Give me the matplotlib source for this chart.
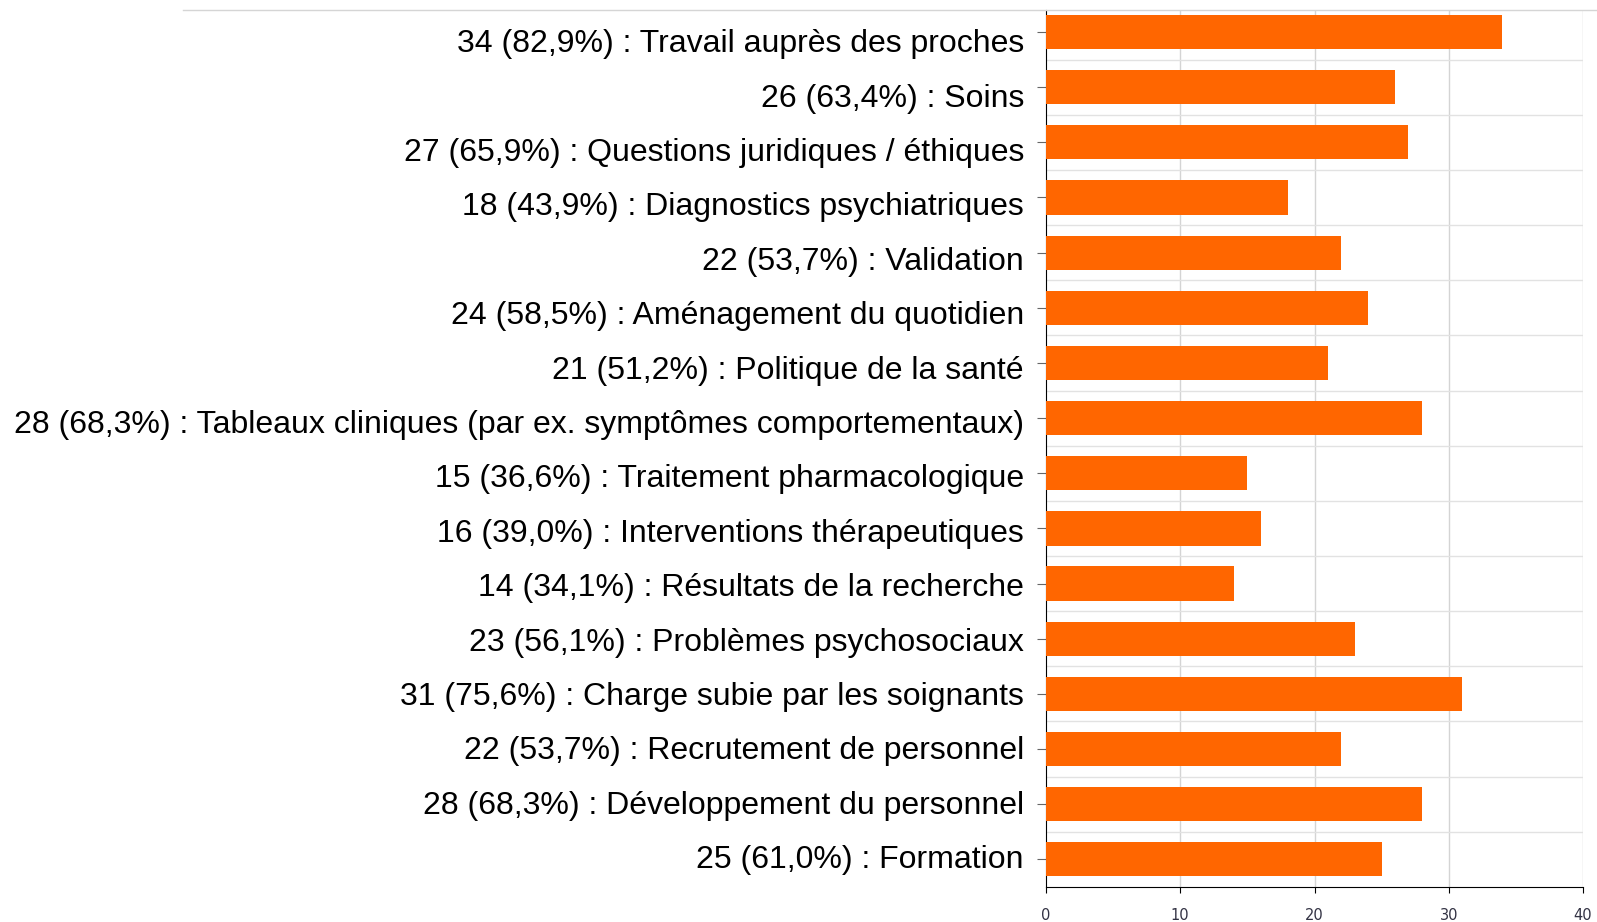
import matplotlib
matplotlib.use("Agg")
import matplotlib.pyplot as plt
from matplotlib.lines import Line2D

# answers, top to bottom
categories = [
    "Travail auprès des proches",
    "Soins",
    "Questions juridiques / éthiques",
    "Diagnostics psychiatriques",
    "Validation",
    "Aménagement du quotidien",
    "Politique de la santé",
    "Tableaux cliniques (par ex. symptômes comportementaux)",
    "Traitement pharmacologique",
    "Interventions thérapeutiques",
    "Résultats de la recherche",
    "Problèmes psychosociaux",
    "Charge subie par les soignants",
    "Recrutement de personnel",
    "Développement du personnel",
    "Formation",
]
counts = [34, 26, 27, 18, 22, 24, 21, 28, 15, 16, 14, 23, 31, 22, 28, 25]
percents = ["82,9", "63,4", "65,9", "43,9", "53,7", "58,5", "51,2", "68,3",
            "36,6", "39,0", "34,1", "56,1", "75,6", "53,7", "68,3", "61,0"]
xticks = [0, 10, 20, 30, 40]

labels = [f"{c} ({p}%) : {name}" for c, p, name in zip(counts, percents, categories)]

plt.rcParams['font.family'] = ['Liberation Sans', 'DejaVu Sans']

W, H = 1597, 922
fig = plt.figure(figsize=(W / 100, H / 100), dpi=100)
ax = fig.add_axes([1046 / W, 0.038, 537 / W, 0.9512])

n = len(categories)
ypos = list(range(n))
ax.barh(ypos, counts, height=0.62, color="#FF6600", zorder=3)

ax.set_ylim(n - 0.5, -0.4)
ax.set_xlim(0, 40)
ax.set_yticks(ypos)
ax.set_yticklabels([])
ax.tick_params(axis="y", length=6.5, color="#666666")

# the labels in the original sit on a slightly tighter pitch than the bars
label_top, label_step = 40.7, 54.4   # pixels from the top
for i, lab in enumerate(labels):
    fig.text(1024 / W, 1 - (label_top + i * label_step) / H, lab,
             fontsize=23, ha="right", va="center_baseline", color="black")

ax.set_xticks(xticks)
ax.set_xticklabels([str(t) for t in xticks], fontsize=10.5, color="#333344",
                   family="DejaVu Sans")
ax.tick_params(axis="x", length=4.5, color="black", pad=11)

# grid: vertical at ticks, horizontal between rows
for t in xticks[1:]:
    ax.axvline(t, color="#d4d4d4", lw=1, zorder=1)
for k in range(1, n):
    ax.axhline(k - 0.5, color="#e2e2e2", lw=1, zorder=1)

for s in ["top", "right"]:
    ax.spines[s].set_visible(False)
ax.spines["left"].set_color("black")
ax.spines["bottom"].set_color("black")

# thin rule across the top
fig.add_artist(Line2D([183 / W, 1.0], [1 - 10.5 / H] * 2, color="#d5d5d5",
                      lw=1, transform=fig.transFigure))

fig.savefig("out.png", dpi=100)
